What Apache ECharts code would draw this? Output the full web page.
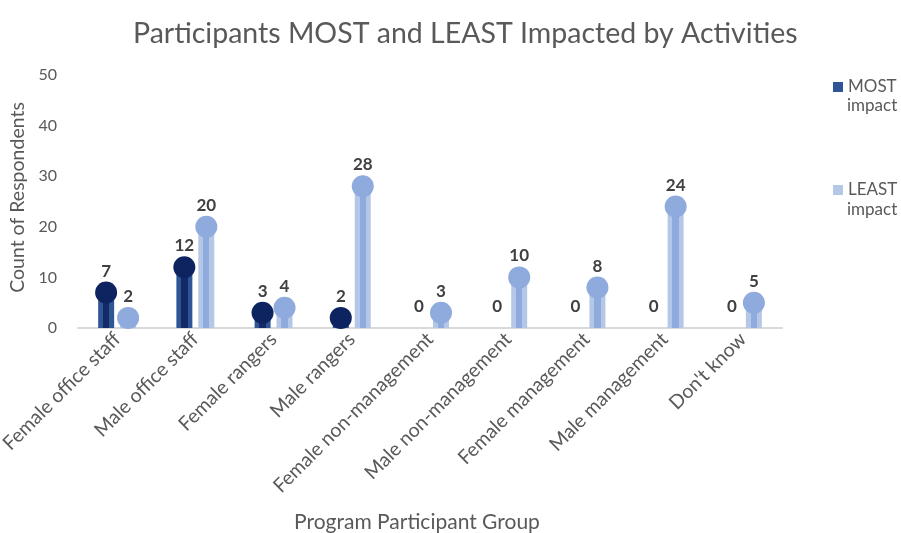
<!doctype html>
<html>

<head>
	<meta charset="utf-8">
	<title></title>
	<script type="text/javascript" src="https://cdn.jsdelivr.net/npm/echarts@6/dist/echarts.min.js"></script>
</head>

<body style="margin:0">
	<div id="main" style="width: 901px;height:533px;"></div>
	<script type="text/javascript">
		var categories = ['Female office staff', 'Male office staff', 'Female rangers', 'Male rangers',
			'Female non-management', 'Male non-management', 'Female management', 'Male management', "Don't know"];
		var mostImpact = [7, 12, 3, 2, 0, 0, 0, 0, 0];
		var leastImpact = [2, 20, 4, 28, 3, 10, 8, 24, 5];
		var yTicks = [0, 10, 20, 30, 40, 50];

		var font = 'Lato';
		var myChart = echarts.init(document.getElementById('main'));

		function stripe(outer, inner) {
			return new echarts.graphic.LinearGradient(0, 0, 1, 0, [
				{ offset: 0, color: outer },
				{ offset: 0.3, color: outer },
				{ offset: 0.3, color: inner },
				{ offset: 0.7, color: inner },
				{ offset: 0.7, color: outer },
				{ offset: 1, color: outer }
			]);
		}

		var labelStyle = {
			show: true,
			position: 'top',
			distance: 13,
			fontFamily: font,
			fontWeight: 'bold',
			fontSize: 17,
			color: '#404040'
		};

		// second line of each legend entry
		function legendSub(y) {
			return {
				type: 'text',
				left: 847,
				top: y,
				style: { text: 'impact', font: '17px Lato', fill: '#595959' }
			};
		}

		option = {
			textStyle: { fontFamily: font },
			title: {
				text: 'Participants MOST and LEAST Impacted by Activities',
				left: 128,
				top: 14,
				textStyle: { fontFamily: font, fontWeight: 'normal', fontSize: 28.5, color: '#595959' }
			},
			legend: {
				orient: 'vertical',
				left: 828,
				top: 71,
				itemGap: 81,
				itemWidth: 10,
				itemHeight: 10,
				icon: 'rect',
				data: [
					{ name: 'MOST', itemStyle: { color: '#2F5597' } },
					{ name: 'LEAST', itemStyle: { color: '#B4C7E7' } }
				],
				textStyle: { fontFamily: font, fontSize: 17, color: '#595959', lineHeight: 22 }
			},
			graphic: [legendSub(97), legendSub(201)],
			grid: { left: 78, right: 119, top: 75, bottom: 205, outerBoundsMode: 'none', containLabel: false },
			xAxis: {
				type: 'category',
				data: categories,
				axisLine: { lineStyle: { color: '#D9D9D9', width: 2 } },
				axisTick: { show: false },
				axisLabel: { rotate: 45, interval: 0, fontFamily: font, fontSize: 19.5, color: '#595959', margin: 8 },
				name: 'Program Participant Group',
				nameLocation: 'middle',
				nameGap: 184,
				nameTextStyle: { fontFamily: font, fontSize: 21, color: '#595959', padding: [0, 26, 0, 0] }
			},
			yAxis: {
				type: 'value',
				min: yTicks[0],
				max: yTicks[yTicks.length - 1],
				interval: 10,
				splitLine: { show: false },
				axisLine: { show: false },
				axisLabel: { fontFamily: font, fontSize: 16, color: '#595959', margin: 21 },
				name: 'Count of Respondents',
				nameLocation: 'middle',
				nameGap: 50,
				nameTextStyle: { fontFamily: font, fontSize: 19.5, color: '#595959', padding: [0, 0, 0, 8] }
			},
			series: [
				{
					name: 'MOST',
					type: 'bar',
					data: mostImpact,
					barWidth: 16,
					barGap: '37%',
					itemStyle: { color: stripe('#2F5597', '#132A66') },
					label: labelStyle
				},
				{
					name: 'LEAST',
					type: 'bar',
					data: leastImpact,
					barWidth: 16,
					itemStyle: { color: stripe('#B4C7E7', '#8FAADC') },
					label: labelStyle
				},
				{
					type: 'scatter',
					data: mostImpact,
					symbolSize: function (v) { return v === 0 ? 0 : 22; },
					symbolOffset: [-11, 0],
					itemStyle: { color: '#0D2461', opacity: 1 },
					z: 3
				},
				{
					type: 'scatter',
					data: leastImpact,
					symbolSize: 22,
					symbolOffset: [11, 0],
					itemStyle: { color: '#8FAADC', opacity: 1 },
					z: 3
				}
			]
		};

		myChart.setOption(option);
	</script>
</body>

</html>
